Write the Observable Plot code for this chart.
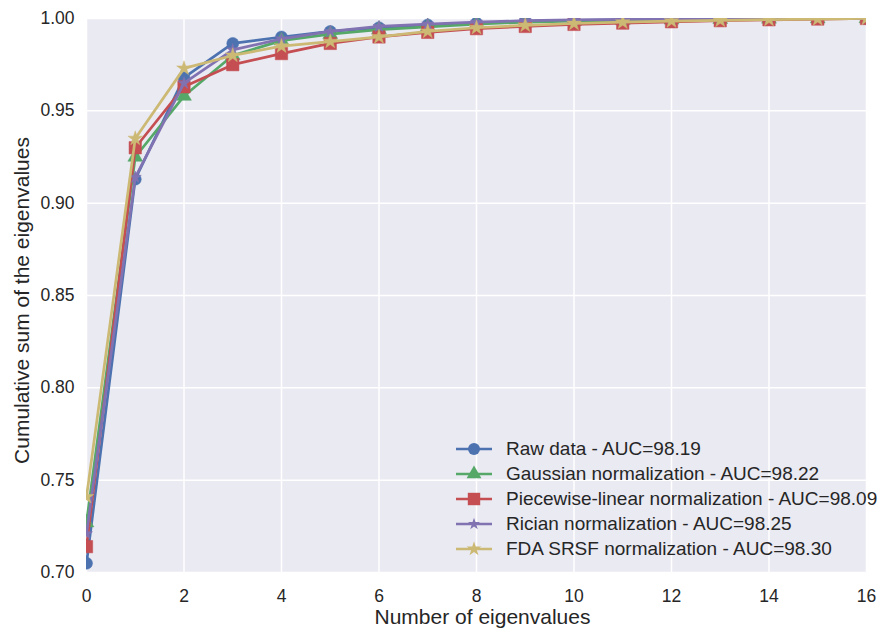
<!DOCTYPE html>
<html><head><meta charset="utf-8">
<script src="https://cdn.jsdelivr.net/npm/d3@7"></script>
<script src="https://cdn.jsdelivr.net/npm/@observablehq/plot@0.6"></script>
<style>
body{margin:0;background:#fff;font-family:"Liberation Sans",Arial,sans-serif;}
#wrap{position:relative;width:879px;height:632px;}
#legend{position:absolute;left:452px;top:436px;font-size:19px;color:#262626;}
.row{display:flex;align-items:center;height:25px;}
.row svg{margin-right:12px;}
</style></head><body>
<div id="wrap"><div id="chart"></div><div id="legend"></div></div>
<script>
const xs = [0,1,2,3,4,5,6,7,8,9,10,11,12,13,14,15,16];
const raw = [0.705,0.913,0.968,0.9865,0.990,0.993,0.995,0.9965,0.9975,0.9985,0.999,0.9993,0.9995,0.9997,0.9998,0.9999,1.0];
const gaussian = [0.727,0.925,0.958,0.980,0.988,0.9915,0.994,0.9955,0.997,0.998,0.9985,0.999,0.9993,0.9996,0.9998,0.9999,1.0];
const piecewise = [0.714,0.930,0.963,0.975,0.981,0.9865,0.990,0.9925,0.9945,0.9957,0.9968,0.9975,0.9982,0.9988,0.9993,0.9997,1.0];
const rician = [0.721,0.914,0.965,0.983,0.989,0.993,0.9957,0.997,0.998,0.9988,0.9993,0.9995,0.9997,0.9998,0.9999,1.0,1.0];
const fda = [0.741,0.935,0.973,0.980,0.985,0.9875,0.990,0.993,0.995,0.9963,0.9973,0.998,0.9986,0.999,0.9994,0.9997,1.0];
const seriesNames = ["Raw data - AUC=98.19","Gaussian normalization - AUC=98.22","Piecewise-linear normalization - AUC=98.09","Rician normalization - AUC=98.25","FDA SRSF normalization - AUC=98.30"];
const xTicks = [0,2,4,6,8,10,12,14,16];
const yTicks = [0.70,0.75,0.80,0.85,0.90,0.95,1.00];

const seriesValues = [raw, gaussian, piecewise, rician, fda];
const colors = ["#4C72B0","#55A868","#C44E52","#8172B2","#CCB974"];
const symbols = ["circle","triangle","square","star","star"];
const radii = [6,5.5,7,3.8,4.6];

const marks = [
  Plot.frame({fill:"#EAEAF2", stroke:null}),
  Plot.gridX(xTicks,{stroke:"white",strokeOpacity:1,strokeWidth:1.5}),
  Plot.gridY(yTicks,{stroke:"white",strokeOpacity:1,strokeWidth:1.5}),
  Plot.axisX(xTicks,{tickSize:0,tickPadding:17,fontSize:17.5,fill:"#262626",label:null,tickFormat:d=>String(d)}),
  Plot.axisY(yTicks,{tickSize:0,tickPadding:12,fontSize:17.5,fill:"#262626",label:null,tickFormat:d3.format(".2f")}),
  Plot.text(["Number of eigenvalues"],{frameAnchor:"bottom",dx:6,dy:51,fontSize:21,fill:"#262626"}),
  Plot.text(["Cumulative sum of the eigenvalues"],{frameAnchor:"left",textAnchor:"middle",rotate:-90,dx:-64,dy:5,fontSize:21,fill:"#262626"})
];
seriesValues.forEach((vals,i)=>{
  const data = xs.map((x,j)=>({x, y: vals[j]}));
  marks.push(Plot.line(data,{x:"x",y:"y",stroke:colors[i],strokeWidth:2.7,clip:true}));
  marks.push(Plot.dot(data,{x:"x",y:"y",fill:colors[i],stroke:colors[i],strokeWidth:0.5,symbol:symbols[i],r:radii[i],clip:true}));
});

const chart = Plot.plot({
  width:879,height:632,
  marginLeft:86,marginRight:13,marginTop:18,marginBottom:60,
  style:{fontFamily:"'Liberation Sans', Arial, sans-serif",background:"white"},
  x:{domain:[0,16]},
  y:{domain:[0.70,1.00]},
  marks
});
document.getElementById("chart").appendChild(chart);

const legend = d3.select("#legend");
seriesNames.forEach((name,i)=>{
  const row = legend.append("div").attr("class","row");
  const svg = row.append("svg").attr("width",42).attr("height",20);
  svg.append("line").attr("x1",4).attr("x2",40).attr("y1",10).attr("y2",10).attr("stroke",colors[i]).attr("stroke-width",2.7);
  const sym = {circle:d3.symbolCircle,triangle:d3.symbolTriangle,square:d3.symbolSquare,star:d3.symbolStar}[symbols[i]];
  svg.append("path").attr("d",d3.symbol(sym, Math.PI*radii[i]*radii[i])()).attr("transform","translate(22,10)").attr("fill",colors[i]);
  row.append("span").text(name);
});
</script>
</body></html>
